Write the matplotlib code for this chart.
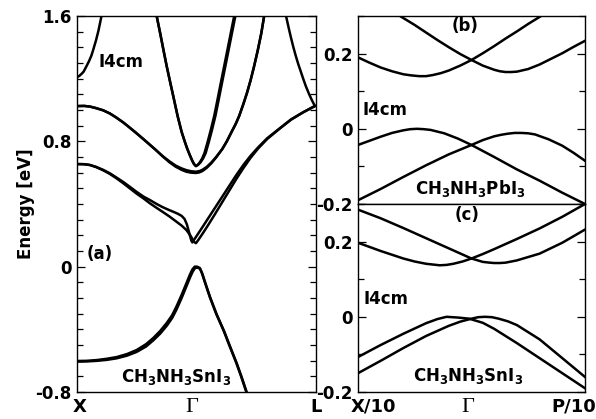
import matplotlib
matplotlib.use("Agg")
import matplotlib.pyplot as plt
from matplotlib.ticker import MultipleLocator

plt.rcParams['font.family'] = ['DejaVu Sans']
plt.rcParams['font.weight'] = 'bold'
plt.rcParams['axes.unicode_minus'] = False
plt.rcParams['mathtext.fontset'] = 'dejavusans'

# ---------------- panel (a): CH3NH3SnI3, X - Gamma - L ----------------
a_top_x = [0.0, 0.01, 0.02, 0.028, 0.04, 0.05, 0.06, 0.068, 0.08, 0.09, 0.103, 0.11]
a_top_y = [1.209, 1.218, 1.232, 1.245, 1.28, 1.31, 1.345, 1.383, 1.445, 1.505, 1.60, 1.65]

a_v1_x = [0.325, 0.335, 0.35, 0.365, 0.377, 0.39, 0.405, 0.423, 0.44, 0.455, 0.464, 0.475, 0.485, 0.492, 0.5,
          0.508, 0.516, 0.526, 0.536, 0.55, 0.563, 0.577, 0.59, 0.605, 0.619, 0.633, 0.647, 0.661, 0.67]
a_v1_y = [1.68, 1.60, 1.488, 1.372, 1.281, 1.19, 1.087, 0.962, 0.86, 0.79, 0.751, 0.71, 0.675, 0.655, 0.642,
          0.65, 0.665, 0.69, 0.725, 0.80, 0.875, 0.962, 1.06, 1.175, 1.281, 1.387, 1.494, 1.60, 1.67]
a_v2_x = [0.325, 0.335, 0.35, 0.365, 0.377, 0.39, 0.405, 0.423, 0.44, 0.455, 0.464, 0.475, 0.485, 0.492, 0.5,
          0.509, 0.519, 0.53, 0.541, 0.555, 0.568, 0.582, 0.595, 0.61, 0.624, 0.638, 0.652, 0.666, 0.675]
a_v2_y = [1.68, 1.60, 1.488, 1.372, 1.281, 1.19, 1.087, 0.962, 0.86, 0.79, 0.751, 0.71, 0.675, 0.655, 0.642,
          0.65, 0.665, 0.69, 0.725, 0.80, 0.875, 0.962, 1.06, 1.175, 1.281, 1.387, 1.494, 1.60, 1.67]

a_s1_x = [0.0, 0.03, 0.054, 0.08, 0.11, 0.138, 0.165, 0.195, 0.222, 0.25, 0.28, 0.305, 0.335, 0.36, 0.389, 0.415,
          0.44, 0.46, 0.48, 0.5, 0.515, 0.527, 0.545, 0.565, 0.585, 0.611, 0.63, 0.65, 0.667, 0.682, 0.70, 0.715,
          0.73, 0.745, 0.76, 0.775, 0.787, 0.795]
a_s1_y = [1.025, 1.026, 1.022, 1.012, 0.998, 0.978, 0.952, 0.92, 0.887, 0.852, 0.813, 0.78, 0.74, 0.706, 0.672, 0.645,
          0.627, 0.616, 0.609, 0.606, 0.61, 0.618, 0.636, 0.665, 0.70, 0.751, 0.80, 0.86, 0.91, 0.962, 1.04, 1.11,
          1.19, 1.281, 1.38, 1.49, 1.60, 1.67]
a_s2_x = [0.0, 0.03, 0.054, 0.08, 0.11, 0.138, 0.165, 0.195, 0.222, 0.25, 0.28, 0.305, 0.335, 0.36, 0.389, 0.415,
          0.44, 0.46, 0.48, 0.5, 0.515, 0.527, 0.545, 0.565, 0.585, 0.611, 0.63, 0.65, 0.667, 0.682, 0.70, 0.715,
          0.73, 0.745, 0.76, 0.775, 0.787, 0.795]
a_s2_y = [1.025, 1.026, 1.022, 1.012, 0.998, 0.978, 0.952, 0.92, 0.887, 0.852, 0.813, 0.78, 0.74, 0.704, 0.666, 0.638,
          0.618, 0.606, 0.60, 0.598, 0.602, 0.61, 0.63, 0.66, 0.697, 0.751, 0.80, 0.86, 0.91, 0.962, 1.04, 1.11,
          1.19, 1.281, 1.38, 1.49, 1.60, 1.67]

a_l1_x = [0.0, 0.03, 0.054, 0.08, 0.11, 0.138, 0.165, 0.195, 0.222, 0.25, 0.28, 0.307, 0.335, 0.36, 0.385, 0.404,
          0.425, 0.44, 0.452, 0.462, 0.472, 0.481, 0.485, 0.495, 0.51, 0.53, 0.55, 0.58, 0.61, 0.64, 0.67, 0.70,
          0.73, 0.762, 0.80, 0.849, 0.90, 0.95, 1.0]
a_l1_y = [0.655, 0.654, 0.649, 0.637, 0.618, 0.596, 0.570, 0.540, 0.510, 0.478, 0.447, 0.425, 0.40, 0.38, 0.363, 0.351,
          0.337, 0.324, 0.305, 0.27, 0.215, 0.165, 0.155, 0.178, 0.212, 0.258, 0.305, 0.375, 0.445, 0.515, 0.585, 0.65,
          0.708, 0.762, 0.82, 0.879, 0.94, 0.985, 1.025]
a_l2_x = [0.0, 0.03, 0.054, 0.08, 0.11, 0.138, 0.165, 0.195, 0.222, 0.25, 0.28, 0.307, 0.335, 0.36, 0.39, 0.42,
          0.44, 0.46, 0.478, 0.492, 0.5, 0.51, 0.53, 0.55, 0.58, 0.61, 0.64, 0.67, 0.70, 0.73, 0.762, 0.80, 0.849,
          0.90, 0.95, 1.0]
a_l2_y = [0.655, 0.654, 0.649, 0.636, 0.615, 0.592, 0.565, 0.532, 0.50, 0.467, 0.435, 0.404, 0.375, 0.35, 0.319, 0.285,
          0.262, 0.234, 0.196, 0.158, 0.15, 0.17, 0.215, 0.262, 0.335, 0.41, 0.485, 0.56, 0.63, 0.695, 0.755, 0.815, 0.877,
          0.938, 0.984, 1.025]

a_t_x = [0.87, 0.879, 0.89, 0.90, 0.91, 0.92, 0.93, 0.94, 0.95, 0.962, 0.975, 0.987, 0.996, 1.0]
a_t_y = [1.665, 1.60, 1.525, 1.46, 1.40, 1.345, 1.295, 1.25, 1.205, 1.153, 1.105, 1.065, 1.038, 1.025]

a_vb1_x = [0.0, 0.04, 0.084, 0.125, 0.167, 0.21, 0.251, 0.29, 0.321, 0.35, 0.377, 0.40, 0.418, 0.44, 0.46, 0.475,
           0.485, 0.495, 0.505, 0.516, 0.525, 0.54, 0.558, 0.585, 0.617, 0.64, 0.67, 0.69, 0.712, 0.72]
a_vb1_y = [-0.602, -0.601, -0.596, -0.588, -0.577, -0.558, -0.532, -0.495, -0.455, -0.41, -0.36, -0.31, -0.255, -0.18, -0.106, -0.05,
           -0.018, 0.0, 0.0, -0.008, -0.04, -0.11, -0.192, -0.30, -0.41, -0.50, -0.615, -0.70, -0.80, -0.84]
a_vb2_x = [0.0, 0.04, 0.084, 0.125, 0.167, 0.21, 0.251, 0.29, 0.321, 0.35, 0.377, 0.40, 0.418, 0.44, 0.46, 0.475,
           0.487, 0.497, 0.507, 0.518, 0.527, 0.542, 0.56, 0.587, 0.619, 0.642, 0.672, 0.692, 0.714, 0.722]
a_vb2_y = [-0.606, -0.605, -0.601, -0.595, -0.585, -0.568, -0.544, -0.51, -0.47, -0.427, -0.378, -0.328, -0.275, -0.2, -0.126, -0.07,
           -0.03, -0.008, -0.006, -0.014, -0.045, -0.115, -0.196, -0.303, -0.413, -0.503, -0.618, -0.703, -0.803, -0.843]

# ---------------- panel (b): CH3NH3PbI3, X/10 - Gamma - P/10 ----------------
b_c1_x = [0.0, 0.05, 0.1, 0.15, 0.2, 0.235, 0.27, 0.30, 0.33, 0.365, 0.4, 0.45, 0.5, 0.55, 0.6, 0.65, 0.7, 0.75, 0.82]
b_c1_y = [0.19, 0.176, 0.163, 0.153, 0.145, 0.142, 0.14, 0.14, 0.143, 0.148, 0.155, 0.168, 0.183, 0.201, 0.22, 0.24, 0.259, 0.279, 0.305]
b_c2_x = [0.185, 0.25, 0.3, 0.35, 0.4, 0.45, 0.5, 0.55, 0.6, 0.625, 0.65, 0.675, 0.7, 0.75, 0.8, 0.85, 0.9, 0.95, 1.0]
b_c2_y = [0.30, 0.276, 0.256, 0.236, 0.217, 0.199, 0.183, 0.168, 0.157, 0.153, 0.151, 0.151, 0.152, 0.159, 0.171, 0.186, 0.201, 0.218, 0.234]
b_v1_x = [0.0, 0.05, 0.1, 0.15, 0.2, 0.23, 0.26, 0.29, 0.32, 0.38, 0.44, 0.5, 0.6, 0.7, 0.8, 0.9, 1.0]
b_v1_y = [-0.043, -0.032, -0.021, -0.011, -0.004, -0.001, 0.0, -0.001, -0.003, -0.012, -0.026, -0.043, -0.075, -0.108, -0.138, -0.17, -0.2]
b_v2_x = [0.0, 0.1, 0.2, 0.3, 0.4, 0.5, 0.55, 0.6, 0.63, 0.66, 0.69, 0.72, 0.75, 0.78, 0.84, 0.9, 0.95, 1.0]
b_v2_y = [-0.19, -0.16, -0.128, -0.097, -0.068, -0.043, -0.03, -0.02, -0.016, -0.013, -0.011, -0.011, -0.012, -0.015, -0.028, -0.045, -0.064, -0.085]

# ---------------- panel (c): CH3NH3SnI3, X/10 - Gamma - P/10 ----------------
c_c1_x = [0.0, 0.05, 0.1, 0.15, 0.2, 0.25, 0.3, 0.33, 0.36, 0.39, 0.42, 0.46, 0.5, 0.55, 0.6, 0.7, 0.8, 0.9, 1.0]
c_c1_y = [0.197, 0.186, 0.175, 0.165, 0.155, 0.147, 0.141, 0.139, 0.137, 0.138, 0.141, 0.147, 0.155, 0.167, 0.18, 0.207, 0.235, 0.266, 0.30]
c_c2_x = [0.0, 0.1, 0.2, 0.3, 0.4, 0.5, 0.55, 0.58, 0.6, 0.625, 0.65, 0.7, 0.8, 0.9, 1.0]
c_c2_y = [0.285, 0.262, 0.236, 0.209, 0.182, 0.155, 0.146, 0.144, 0.143, 0.143, 0.144, 0.15, 0.168, 0.197, 0.232]
c_v1_x = [0.0, 0.1, 0.2, 0.3, 0.35, 0.39, 0.44, 0.49, 0.55, 0.6, 0.7, 0.8, 0.9, 1.0]
c_v1_y = [-0.107, -0.075, -0.045, -0.017, -0.006, 0.0, -0.002, -0.005, -0.016, -0.032, -0.07, -0.11, -0.15, -0.19]
c_v2_x = [0.0, 0.1, 0.2, 0.3, 0.4, 0.45, 0.5, 0.53, 0.56, 0.59, 0.62, 0.66, 0.7, 0.8, 0.9, 1.0]
c_v2_y = [-0.15, -0.117, -0.083, -0.051, -0.024, -0.013, -0.005, -0.001, 0.0, -0.001, -0.005, -0.012, -0.022, -0.06, -0.11, -0.16]

a_ticks = [-0.8, 0, 0.8, 1.6]
a_ticklabels = ['-0.8', '0', '0.8', '1.6']
bc_ticks = [-0.2, 0, 0.2]
bc_ticklabels = ['-0.2', '0', '0.2']
a_klabels = ['X', 'Γ', 'L']
bc_klabels = ['X/10', 'Γ', 'P/10']

FS = 12
LW = 1.8

fig = plt.figure(figsize=(5.96, 4.19), dpi=100)
W, H = 596.0, 419.0
axa = fig.add_axes([77 / W, 27 / H, 239 / W, 376 / H])
axb = fig.add_axes([358 / W, 215 / H, 227 / W, 188 / H])
axc = fig.add_axes([358 / W, 27 / H, 227 / W, 188 / H])

for xs, ys in [(a_top_x, a_top_y), (a_v1_x, a_v1_y), (a_v2_x, a_v2_y),
               (a_s1_x, a_s1_y), (a_s2_x, a_s2_y), (a_l1_x, a_l1_y),
               (a_l2_x, a_l2_y), (a_t_x, a_t_y), (a_vb1_x, a_vb1_y),
               (a_vb2_x, a_vb2_y)]:
    axa.plot(xs, ys, color='black', lw=LW, solid_joinstyle='round')
for xs, ys in [(b_c1_x, b_c1_y), (b_c2_x, b_c2_y), (b_v1_x, b_v1_y), (b_v2_x, b_v2_y)]:
    axb.plot(xs, ys, color='black', lw=LW, solid_joinstyle='round')
for xs, ys in [(c_c1_x, c_c1_y), (c_c2_x, c_c2_y), (c_v1_x, c_v1_y), (c_v2_x, c_v2_y)]:
    axc.plot(xs, ys, color='black', lw=LW, solid_joinstyle='round')

axa.set_xlim(0, 1)
axa.set_ylim(-0.8, 1.6)
axa.set_yticks(a_ticks)
axa.set_yticklabels(a_ticklabels)
axa.yaxis.set_minor_locator(MultipleLocator(0.1))

for ax in (axb, axc):
    ax.set_xlim(0, 1)
    ax.set_ylim(-0.2, 0.3)
    ax.set_yticks(bc_ticks)
    ax.set_yticklabels(bc_ticklabels)
    ax.yaxis.set_minor_locator(MultipleLocator(0.1))

for ax in (axa, axb, axc):
    for s in ax.spines.values():
        s.set_linewidth(1.0)
    ax.tick_params(axis='y', which='both', direction='in', left=True, right=True,
                   labelsize=FS, width=0.9, pad=4)
    ax.tick_params(axis='y', which='major', length=6)
    ax.tick_params(axis='y', which='minor', length=4)
    ax.tick_params(axis='x', which='both', length=0, pad=4)
    for lab in ax.get_yticklabels():
        lab.set_fontweight('bold')

axb.set_xticks([])
axa.set_xticks([0.013, 0.481, 1.005])
axa.set_xticklabels(a_klabels)
axc.set_xticks([0.066, 0.485, 0.952])
axc.set_xticklabels(bc_klabels)
for ax in (axa, axc):
    for i, lab in enumerate(ax.get_xticklabels()):
        if i == 1:
            lab.set_fontfamily('Liberation Serif')
            lab.set_fontweight('normal')
            lab.set_fontsize(16)
        else:
            lab.set_fontweight('bold')
            lab.set_fontsize(13)

fig.text(0.044, 0.513, 'Energy [eV]', rotation=90, ha='center', va='center',
         fontsize=FS, fontweight='bold')

kw = dict(fontsize=FS, fontweight='bold', ha='center', va='center')
axa.text(0.184, 0.878, 'I4cm', transform=axa.transAxes, **kw)
axa.text(0.096, 0.367, '(a)', transform=axa.transAxes, **kw)
axa.text(0.414, 0.04, r'CH$_\mathbf{3}$NH$_\mathbf{3}$SnI$_\mathbf{3}$', transform=axa.transAxes, **kw)

axb.text(0.471, 0.947, '(b)', transform=axb.transAxes, **kw)
axb.text(0.119, 0.50, 'I4cm', transform=axb.transAxes, **kw)
axb.text(0.493, 0.085, r'CH$_\mathbf{3}$NH$_\mathbf{3}$PbI$_\mathbf{3}$', transform=axb.transAxes, **kw)

axc.text(0.48, 0.941, '(c)', transform=axc.transAxes, **kw)
axc.text(0.123, 0.495, 'I4cm', transform=axc.transAxes, **kw)
axc.text(0.485, 0.085, r'CH$_\mathbf{3}$NH$_\mathbf{3}$SnI$_\mathbf{3}$', transform=axc.transAxes, **kw)

fig.savefig('out.png', dpi=100, facecolor='white')
